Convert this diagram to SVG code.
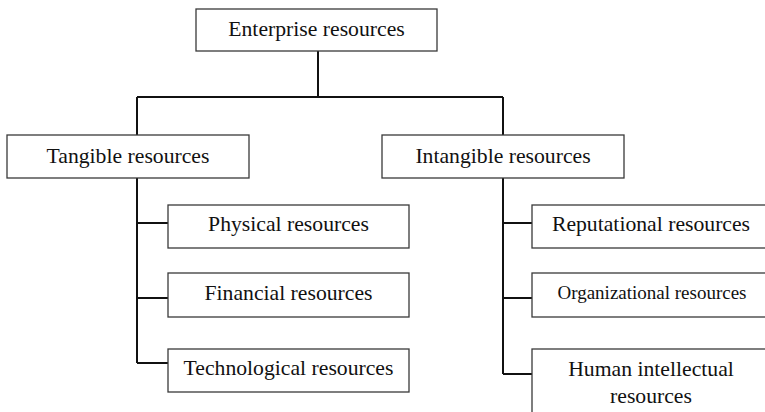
<svg xmlns="http://www.w3.org/2000/svg" width="765" height="412" viewBox="0 0 765 412">
<style>
.box{fill:#fff;stroke:#3a3a3a;stroke-width:1.3}
.t{font-family:"Liberation Serif","Times New Roman",serif;font-size:21.7px;fill:#111;text-anchor:middle}
.s{font-size:19px}
.c{fill:none;stroke:#111;stroke-width:2}
</style>
<rect width="765" height="412" fill="#fff"/>
<g id="connectors">
<path class="c" d="M318 51V97M137 97H503M137 97V135M503 97V135"/>
<path class="c" d="M137 178V363M137 223H168M137 298H168M137 363H168"/>
<path class="c" d="M503 178V374M503 223H532M503 298H532M503 374H532"/>
</g>
<g id="enterprise"><rect class="box" x="196" y="9" width="241" height="42"/><text class="t" x="316.5" y="36">Enterprise resources</text></g>
<g id="tangible"><rect class="box" x="7" y="135" width="242" height="43"/><text class="t" x="128" y="163">Tangible resources</text></g>
<g id="intangible"><rect class="box" x="382" y="135" width="242" height="43"/><text class="t" x="503" y="163">Intangible resources</text></g>
<g id="physical"><rect class="box" x="168" y="205" width="241" height="43"/><text class="t" x="288.5" y="231">Physical resources</text></g>
<g id="financial"><rect class="box" x="168" y="273" width="241" height="44"/><text class="t" x="288.5" y="300">Financial resources</text></g>
<g id="technological"><rect class="box" x="168" y="349" width="241" height="43"/><text class="t" x="288.5" y="375">Technological resources</text></g>
<g id="reputational"><rect class="box" x="532" y="205" width="240" height="43"/><text class="t" x="651" y="231">Reputational resources</text></g>
<g id="organizational"><rect class="box" x="532" y="273" width="240" height="44"/><text class="t s" x="652" y="299">Organizational resources</text></g>
<g id="human"><rect class="box" x="532" y="349" width="240" height="70"/><text class="t" x="651" y="376">Human intellectual</text><text class="t" x="651" y="403">resources</text></g>
</svg>
